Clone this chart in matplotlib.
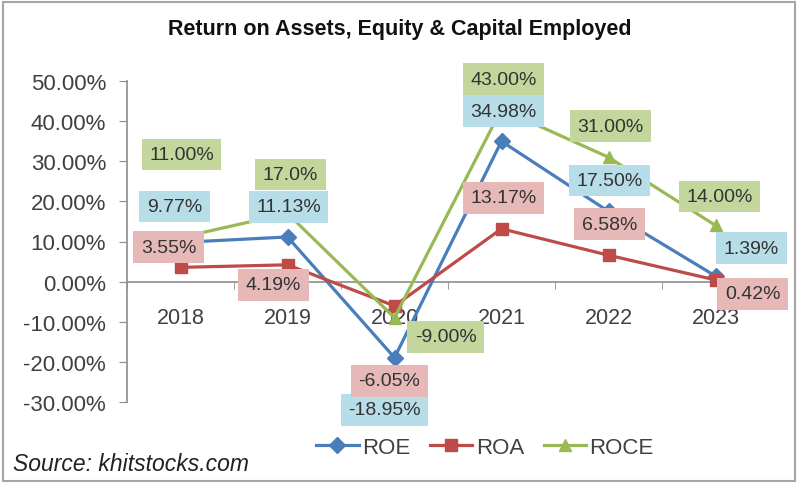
import matplotlib
matplotlib.use("Agg")
import matplotlib.pyplot as plt
from matplotlib.patches import Rectangle
import numpy as np

years = ["2018", "2019", "2020", "2021", "2022", "2023"]
roe = [9.77, 11.13, -18.95, 34.98, 17.50, 1.39]
roa = [3.55, 4.19, -6.05, 13.17, 6.58, 0.42]
roce = [11.00, 17.00, -9.00, 43.00, 31.00, 14.00]
roe_labels = ["9.77%", "11.13%", "-18.95%", "34.98%", "17.50%", "1.39%"]
roa_labels = ["3.55%", "4.19%", "-6.05%", "13.17%", "6.58%", "0.42%"]
roce_labels = ["11.00%", "17.0%", "-9.00%", "43.00%", "31.00%", "14.00%"]
yticks = [-30, -20, -10, 0, 10, 20, 30, 40, 50]

plt.rcParams['font.family'] = ['Liberation Sans', 'DejaVu Sans']

fig = plt.figure(figsize=(8, 4.85), dpi=100)
ax = fig.add_axes([127/800, 1-403/485, 642/800, 321/485])

x = np.arange(len(years))
c_roe, c_roa, c_roce = "#4a7ebb", "#be4b48", "#98b954"
ax.plot(x, roe, color=c_roe, lw=2.3, marker="D", ms=8, label="ROE", zorder=3)
ax.plot(x, roa, color=c_roa, lw=2.3, marker="s", ms=9, label="ROA", zorder=3)
ax.plot(x, roce, color=c_roce, lw=2.3, marker="^", ms=9, label="ROCE", zorder=3)

ax.set_xlim(-0.5, len(years) - 0.5)
ax.set_ylim(-30, 50)
ax.set_yticks(yticks)
ax.set_yticklabels([f"{v:.2f}%" for v in yticks])
ax.set_xticks(x)
ax.set_xticklabels(years)
ax.set_xticks(np.arange(len(years) + 1) - 0.5, minor=True)

for s in ["top", "right"]:
    ax.spines[s].set_visible(False)
ax.spines["bottom"].set_position(("data", 0))
ax.spines["bottom"].set_color("#8c8c8c")
ax.spines["left"].set_color("#8c8c8c")
ax.spines["bottom"].set_linewidth(1.2)
ax.spines["left"].set_linewidth(1.2)
ax.tick_params(axis="y", direction="out", length=6, color="#8c8c8c", labelsize=16,
               labelcolor="#404040", pad=9)
ax.tick_params(axis="x", which="major", length=0, labelsize=15.5, labelcolor="#404040", pad=18)
ax.tick_params(axis="x", which="minor", direction="out", length=5, color="#8c8c8c")

# label offsets in pixels (dx, dy with dy positive up)
roe_off = [(-6, 36), (1, 30), (-10, -52), (2, 30), (1, 31), (36, 28)]
roa_off = [(-12, 20), (-14, -20), (-5, -75), (2, 31), (1, 31), (37, -14)]
roce_off = [(1, 83), (3, 39), (51, -19), (2, 30), (2, 31), (4, 29)]

def add_labels(vals, labs, offs, fc):
    for i, (v, t, o) in enumerate(zip(vals, labs, offs)):
        ax.annotate(t, (x[i], v), xytext=o, textcoords="offset pixels",
                    ha="center", va="center", fontsize=14, color="#333333",
                    bbox=dict(boxstyle="square,pad=0.38", fc=fc, ec="none"),
                    zorder=5, annotation_clip=False)

add_labels(roe, roe_labels, roe_off, "#b7dde8")
add_labels(roa, roa_labels, roa_off, "#e6b9b8")
add_labels(roce, roce_labels, roce_off, "#c3d69b")

fig.text(0.5, 1-30/485, "Return on Assets, Equity & Capital Employed", ha="center",
         va="center", fontsize=15.5, fontweight="bold", color="#111111")

leg = fig.legend(loc="center", bbox_to_anchor=(485/800, 1-448/485), ncol=3, frameon=False,
                 fontsize=16, handlelength=1.9, columnspacing=0.9, handletextpad=0.15,
                 labelcolor="#404040")

fig.text(13/800, 1-465/485, "Source: khitstocks.com", ha="left", va="center",
         fontsize=16.5, style="italic", color="#222222")

fig.patches.append(Rectangle((3/800, 3/485), 792/800, 479/485, transform=fig.transFigure,
                             fill=False, ec="#a6a6a6", lw=1.5))

fig.savefig("out.png", dpi=100)
